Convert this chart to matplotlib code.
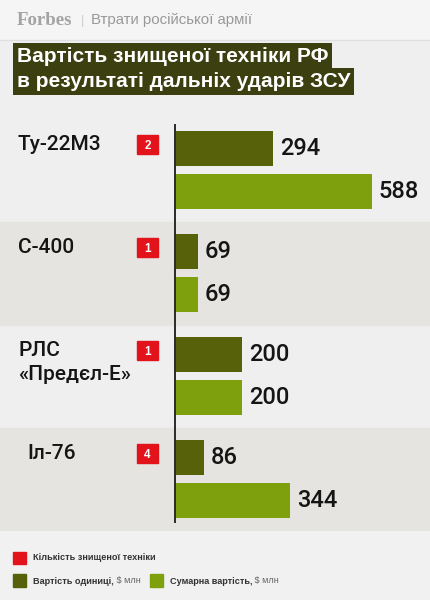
import numpy as np
import matplotlib
matplotlib.use('Agg')
import matplotlib.pyplot as plt
from matplotlib.patches import Rectangle

plt.rcParams['font.family'] = ['Liberation Sans', 'DejaVu Sans']

categories = ['Ту-22М3', 'С-400', 'РЛС\n«Предєл-Е»', 'Іл-76']
counts = [2, 1, 1, 4]
unit_cost = [294, 69, 200, 86]
total_cost = [588, 69, 200, 344]

title_lines = ['Вартість знищеної техніки РФ', 'в результаті дальніх ударів ЗСУ']
source = 'Forbes'
rubric = 'Втрати російської армії'
legend_count = 'Кількість знищеної техніки'
legend_unit = 'Вартість одиниці,'
legend_total = 'Сумарна вартість,'
unit_txt = ' $ млн'

dark = '#566109'
light = '#7ea00c'
red = '#e3131b'
title_bg = '#3c3f0f'
medium = ['Roboto', 'Liberation Sans', 'DejaVu Sans']

fig = plt.figure(figsize=(4.3, 6), dpi=100)
fig.patch.set_facecolor('#efefef')

# background layer in pixel coords
bg = fig.add_axes([0, 0, 1, 1])
bg.set_xlim(0, 430)
bg.set_ylim(600, 0)
bg.axis('off')
bg.add_patch(Rectangle((0, 0), 430, 40, color='#f5f5f5', zorder=0))
bg.axhline(40, color='#e0e0e0', lw=1)
bg.add_patch(Rectangle((0, 531), 430, 69, color='#f1f1f1', zorder=0))

# header
bg.text(17, 25, source, family='Liberation Serif', fontweight='bold',
        fontsize=13.5, color='#a3a3a3', va='baseline')
bg.text(81, 24, '|', fontsize=9, color='#cccccc', va='baseline')
bg.text(91, 24, rubric, fontsize=10.8, color='#999999', va='baseline')

# title with highlighted lines
for k, line in enumerate(title_lines):
    bg.text(17, 62 + 25 * k, line, fontsize=15, fontweight='bold', color='white',
            va='baseline', zorder=3 - k,
            bbox=dict(boxstyle='square,pad=0.18', fc=title_bg, ec='none'))

# main chart
scale = 0.335   # px per $ mln
x0 = 175
top, bottom = 118.5, 530.5
ax = fig.add_axes([0, (600 - bottom) / 600, 1, (bottom - top) / 600])
ax.set_xlim(-x0 / scale, (430 - x0) / scale)
ax.set_ylim(len(categories) - 0.5, -0.5)
ax.axis('off')

y = np.arange(len(categories))
for i in y:
    if i % 2:
        ax.axhspan(i - 0.5, i + 0.5, color='#e5e4e0', zorder=0)

ax.barh(y - 0.204, unit_cost, height=0.34, color=dark, zorder=2)
ax.barh(y + 0.204, total_cost, height=0.34, color=light, zorder=2)
ax.axvline(0, ymin=0.021, ymax=0.984, color='#2a2a2a', lw=1.4, zorder=3)

for i in y:
    for v, off in ((unit_cost[i], -0.204), (total_cost[i], 0.204)):
        ax.text(v + 7 / scale, i + off, str(v), va='center', ha='left',
                fontsize=17, color='#151515', family=medium, fontweight='medium')

trans = ax.get_yaxis_transform()
label_dx = [0, 0, 0, 9]
for i, name in enumerate(categories):
    for j, part in enumerate(name.split('\n')):
        ax.text((18 + label_dx[i]) / 430, i - 0.19 + j * 0.225, part,
                transform=trans, fontsize=15, color='#151515', va='baseline',
                family=medium, fontweight='medium')
    bx = (137 - x0) / scale
    ax.add_patch(Rectangle((bx, i - 0.25 - 0.092), 21 / scale, 0.184,
                           color=red, zorder=3))
    ax.text(bx + 10.5 / scale, i - 0.25 + 0.05, str(counts[i]), color='white',
            fontweight='bold', fontsize=8.5, ha='center', va='baseline', zorder=4)

# legend
bg.add_patch(Rectangle((13, 552), 13, 12, color=red))
bg.add_patch(Rectangle((13, 574), 13, 13, color=dark))
bg.add_patch(Rectangle((150, 574), 13, 13, color=light))
bg.text(33, 558, legend_count, fontsize=6.6, fontweight='bold', color='#333333',
        va='center')
t1 = bg.text(33, 581, legend_unit, fontsize=6.6, fontweight='bold',
             color='#333333', va='center')
bg.annotate(unit_txt, xy=(1, 0.5), xycoords=t1, va='center', fontsize=6.6,
            color='#666666')
t2 = bg.text(170, 581, legend_total, fontsize=6.6, fontweight='bold',
             color='#333333', va='center')
bg.annotate(unit_txt, xy=(1, 0.5), xycoords=t2, va='center', fontsize=6.6,
            color='#666666')

fig.savefig('out.png', dpi=100, facecolor=fig.get_facecolor())
